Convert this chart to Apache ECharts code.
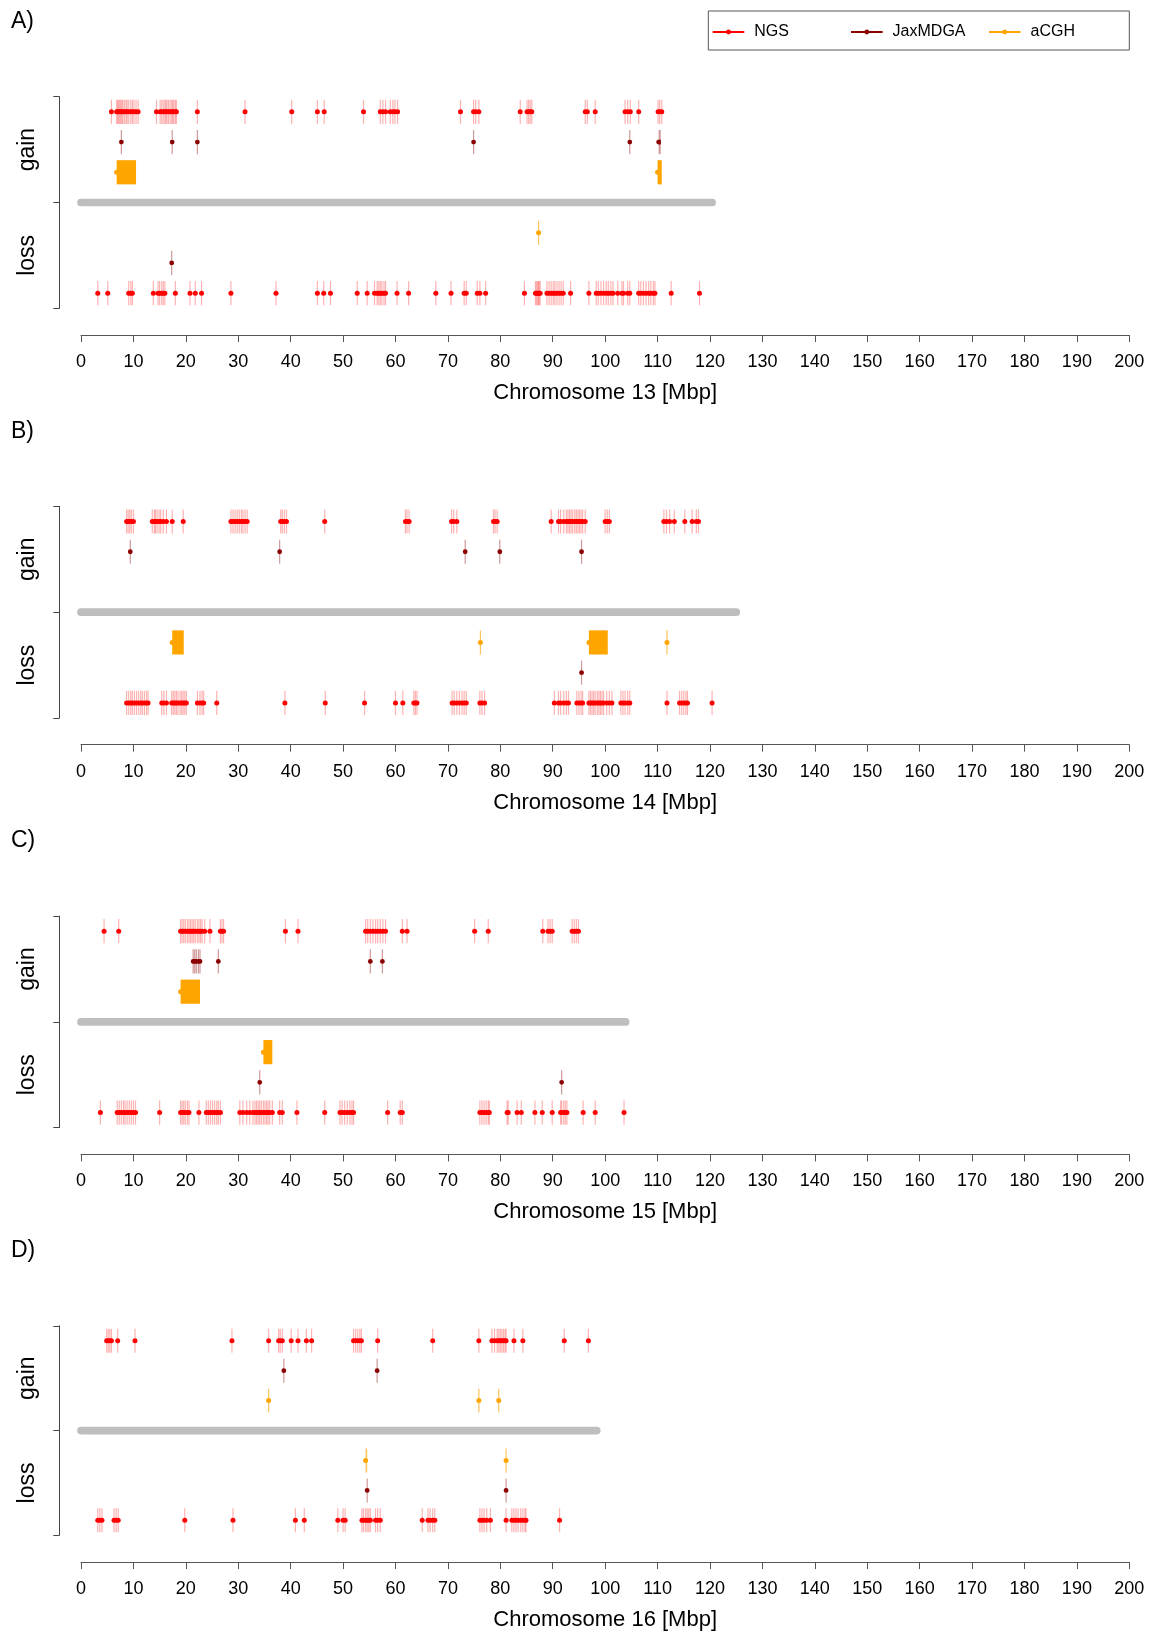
<!DOCTYPE html>
<html><head><meta charset="utf-8">
<script src="https://cdn.jsdelivr.net/npm/echarts@6/dist/echarts.min.js"></script>
<style>html,body{margin:0;padding:0;background:#fff}#c{width:1153px;height:1632px}</style>
</head><body><div id="c"></div><script>
// ---------------- data (Mbp) ----------------
const panelLabels = ['A)', 'B)', 'C)', 'D)'];
const chromosomes = ['13', '14', '15', '16'];
const chrLengths = [120.4, 125.0, 103.9, 98.4];
const seriesNames = ['NGS', 'JaxMDGA', 'aCGH'];

// chromosome 13
const gainNGS13 = [5.8, 6.8,7.0,7.2,7.4,7.6,7.8,8.0,8.3,8.6,8.8,9.1,9.5,9.8,10.1,10.5,10.9, 14.4, 15.1,15.4,15.7,16.0,16.2,16.4,16.7,17.0,17.3,17.5,17.7,18.0,18.2, 22.2, 31.3, 40.2, 45.1, 46.4, 53.9, 57.1,57.6,58.1, 59.0,59.5,59.9,60.4, 72.4, 74.9,75.3,75.9, 83.8, 85.1,85.4,85.7,86.0, 96.2,96.6, 98.1, 103.8,104.3,104.8, 106.4, 110.1,110.4,110.8];
const gainJax13 = [7.7, 17.4, 22.2, 74.9, 104.7, [110.2,110.6]];
const gainACGH13 = [[6.8,10.5], [110.0,110.8]];
const lossACGH13 = [87.3];
const lossJax13 = [17.3];
const lossNGS13 = [3.2, 5.1, 9.1,9.5,9.8, 13.8, 14.7,15.0,15.4,15.7,16.0, 18.0, 20.8, 21.8, 23.0, 28.6, 37.2, 45.1, 46.3, 47.6, 52.7, 54.6, 56.0,56.5,56.8,57.1,57.4,57.8,58.1, 60.3, 62.5, 67.7, 70.6, 73.1,73.5, 75.6,76.1, 77.2, 84.6, 86.7,86.9,87.1,87.3,87.4,87.6, 88.9,89.3,89.7,90.1,90.4,90.8,91.2,91.6,92.0, 93.4, 96.9, 98.3,98.7,99.2,99.7,100.2,100.6,101.1,101.5, 102.4, 103.2,103.5, 104.3,104.7, 106.4,106.8,107.3,107.8,108.3,108.7,109.2,109.5, 112.6, 118.0];

// chromosome 14
const gainNGS14 = [8.7,9.0,9.3,9.6,10.0, 13.6,14.0,14.2,14.5,14.9,15.2, 15.7, 16.3, 17.4, 19.5, 28.6,29.0,29.4,29.8,30.2,30.6,30.9,31.3,31.7, 38.1,38.4,38.8,39.2, 46.5, 61.9,62.2,62.6, 70.7,71.1,71.7, 78.7,79.0,79.4, 89.7, 91.1,91.5,92.1, 92.6,92.9,93.2,93.5,93.8,94.2,94.5,94.8,95.1,95.4,95.7,96.2, 100.0,100.4,100.8, 111.2,111.7,112.3, 113.2, 115.2, 116.6, 117.4,117.8];
const gainJax14 = [9.4, 37.9, 73.3, 79.9, 95.5];
const gainACGH14 = [];
const lossACGH14 = [[17.4,19.6], 76.2, [96.9,100.5], 111.8];
const lossJax14 = [95.5];
const lossNGS14 = [8.7,9.1,9.5,9.8,10.2,10.6,11.0,11.4,11.7,12.1,12.5,12.8, 15.4,15.8,16.3, 17.3,17.6,17.9,18.2,18.5,18.9,19.2,19.5,19.8,20.1, 22.2,22.7,23.1,23.4, 25.9, 38.9, 46.6, 54.1, 60.0, 61.4, 63.5,63.8,64.1, 70.8,71.2,71.7,72.2,72.7,73.1,73.5, 76.1,76.5,77.0, 90.3, 91.1,91.5,92.1,92.6,93.0, 94.6,95.0,95.4,95.7, 96.9,97.2,97.5,97.8,98.1,98.5,98.8,99.1,99.4,99.7,100.3,100.8,101.3, 103.0,103.4,103.8,104.3,104.7, 111.8, 114.2,114.6,115.0,115.4,115.7, 120.4];

// chromosome 15
const gainNGS15 = [4.4, 7.2, 19.0,19.3,19.6,19.9,20.3,20.6,20.9,21.2,21.5,21.8,22.2,22.5,22.8,23.1,23.6, 24.6, 26.6,26.9,27.2, 39.0, 41.4, 54.3,54.7,55.2,55.7,56.2,56.6,57.1,57.6,58.1, 61.3,62.2, 75.1, 77.7, 88.1, 89.1,89.5,89.9, 93.7,94.1,94.5,94.9];
const gainJax15 = [21.4,21.7,22.0,22.4,22.7, 26.2, 55.2, 57.5];
const gainACGH15 = [[19.0,22.7]];
const lossACGH15 = [[34.8,36.5]];
const lossJax15 = [34.1, 91.7];
const lossNGS15 = [3.7, 6.9,7.3,7.7,8.1,8.4,8.8,9.2,9.6,10.0,10.4, 15.0, 19.0,19.3,19.6,19.9,20.3,20.6, 22.5, 23.9,24.3,24.7,25.1,25.5,25.9,26.2,26.6, 30.3,30.9,31.6,32.2, 32.8,33.2,33.5,33.8,34.1,34.4,34.8,35.1,35.4,35.7,36.0,36.5, 37.9,38.4, 41.2, 46.5, 49.4,49.8,50.3,50.8,51.3,51.7,52.0, 58.5, 60.9,61.3, 76.1,76.5,76.9,77.3,77.7,77.9, 81.3,81.5, 83.2,84.0, 86.6, 88.0, 89.9, 91.5,91.7,92.1,92.4,92.7, 95.8, 98.1, 103.6];

// chromosome 16
const gainNGS16 = [4.9,5.2,5.5,5.8, 7.0, 10.3, 28.8, 35.8, 37.7,38.0,38.4, 40.1, 41.4, 43.0, 44.0, 52.0,52.4,52.8,53.2,53.5, 56.6, 67.1, 75.9, 78.4,78.9,79.4,79.7,80.0,80.3,80.6,80.9,81.1, 82.6, 84.3, 92.2, 96.8];
const gainJax16 = [38.7, 56.5];
const gainACGH16 = [35.8, 75.9, 79.7];
const lossACGH16 = [[54.3,54.6], 81.1];
const lossJax16 = [54.6, 81.1];
const lossNGS16 = [3.2,3.6,4.0, 6.3,6.7,7.1, 19.8, 29.0, 40.9, 42.6, 49.0, 50.0,50.4, 53.6,53.9,54.3,54.6,54.9,55.2, 56.2,56.6,57.1, 65.1, 66.2,66.6,67.1,67.5, 76.1,76.5,76.9,77.4,78.1, 81.1, 82.2,82.6,83.0,83.4,83.9,84.3,84.7,84.9, 91.3];

// row levels: gain NGS 3, gain JaxMDGA 2, gain aCGH 1, chromosome 0, loss aCGH -1, loss JaxMDGA -2, loss NGS -3
const panelRows = [
  [[gainNGS13,'NGS',3],[gainJax13,'JaxMDGA',2],[gainACGH13,'aCGH',1],[lossACGH13,'aCGH',-1],[lossJax13,'JaxMDGA',-2],[lossNGS13,'NGS',-3]],
  [[gainNGS14,'NGS',3],[gainJax14,'JaxMDGA',2],[gainACGH14,'aCGH',1],[lossACGH14,'aCGH',-1],[lossJax14,'JaxMDGA',-2],[lossNGS14,'NGS',-3]],
  [[gainNGS15,'NGS',3],[gainJax15,'JaxMDGA',2],[gainACGH15,'aCGH',1],[lossACGH15,'aCGH',-1],[lossJax15,'JaxMDGA',-2],[lossNGS15,'NGS',-3]],
  [[gainNGS16,'NGS',3],[gainJax16,'JaxMDGA',2],[gainACGH16,'aCGH',1],[lossACGH16,'aCGH',-1],[lossJax16,'JaxMDGA',-2],[lossNGS16,'NGS',-3]]
];

// ---------------- styling ----------------
const FONT = '"Liberation Sans", Arial, Helvetica, sans-serif';
const STY = {
  'NGS':     {color:'#FF0000', band:'rgba(255,0,0,0.3)', solid:'rgba(255,0,0,0.3)', r:2.5, line:true},
  'JaxMDGA': {color:'#8B0000', band:'rgba(139,0,0,0.4)', solid:'rgba(139,0,0,0.4)', r:2.4, line:true},
  'aCGH':    {color:'#FFA500', band:'rgba(255,165,0,0.65)', solid:'#FFA500', r:2.5, line:false}
};
const PANEL_STEP = 409.7, GRID_TOP = 96.7, GRID_H = 211.6, GRID_LEFT = 81, GRID_RIGHT = 23.7;

function makeRender(st) {
  return function (params, api) {
    const s = api.value(0), e = api.value(1), lv = api.value(2);
    const p1 = api.coord([s, lv]), p2 = api.coord([e, lv]);
    const hh = api.size([0, 0.4])[1];
    const span = p2[0] - p1[0];
    const w = Math.max(span, 1.2);
    const x0 = span < 1.2 ? p1[0] - 0.6 : p1[0];
    const children = [
      {type:'rect', shape:{x:x0, y:p1[1]-hh, width:w, height:2*hh}, style:{fill: span > 2 ? st.solid : st.band}}
    ];
    if (st.line && span > 0.5) children.push({type:'line', shape:{x1:p1[0], y1:p1[1], x2:p2[0], y2:p2[1]}, style:{stroke:st.color, lineWidth:st.r*2}});
    children.push({type:'circle', shape:{cx:p1[0], cy:p1[1], r:st.r}, style:{fill:st.color}});
    return {type:'group', children};
  };
}

const grids = [], xAxes = [], yAxes = [], series = [], titles = [];
// dummy series for legend icons
seriesNames.forEach(n => {
  series.push({type:'line', name:n, xAxisIndex:0, yAxisIndex:0, data:[], symbol:'circle', symbolSize:5,
    itemStyle:{color:STY[n].color}, lineStyle:{color:STY[n].color, width:2}});
});

for (let i = 0; i < 4; i++) {
  grids.push({left:GRID_LEFT, right:GRID_RIGHT, top:GRID_TOP + i*PANEL_STEP, height:GRID_H, containLabel:false});
  titles.push({text:panelLabels[i], left:11, top:10 + i*PANEL_STEP, padding:0,
    textStyle:{fontSize:23, fontWeight:'normal', color:'#000', fontFamily:FONT}});
  xAxes.push({gridIndex:i, type:'value', min:0, max:200, interval:10, position:'bottom', offset:26.7,
    axisLine:{show:true, onZero:false, lineStyle:{color:'#555', width:1}},
    axisTick:{show:true, length:7, lineStyle:{color:'#555'}},
    axisLabel:{fontSize:18, color:'#000', margin:18, fontFamily:FONT, showMinLabel:true, showMaxLabel:true},
    splitLine:{show:false},
    name:'Chromosome ' + chromosomes[i] + ' [Mbp]', nameLocation:'middle', nameGap:47,
    nameTextStyle:{fontSize:22, color:'#000', fontFamily:FONT}});
  yAxes.push({gridIndex:i, type:'value', min:-3.5, max:3.5, interval:3.5, position:'left', offset:21.7,
    axisLine:{show:true, onZero:false, lineStyle:{color:'#444'}},
    axisTick:{show:true, length:6, lineStyle:{color:'#444'}},
    axisLabel:{show:false}, splitLine:{show:false}});
  yAxes.push({gridIndex:i, type:'value', min:-3.5, max:3.5, interval:1.75, position:'left', offset:21.7,
    axisLine:{show:false}, axisTick:{show:false}, splitLine:{show:false},
    axisLabel:{show:true, rotate:90, fontSize:23, color:'#000', margin:20, fontFamily:FONT,
      formatter: v => (v === 1.75 ? 'gain' : (v === -1.75 ? 'loss' : ''))}});
  // chromosome bar
  series.push({type:'line', name:'chr' + chromosomes[i], xAxisIndex:i, yAxisIndex:2*i, data:[[0,0],[chrLengths[i],0]],
    symbol:'none', silent:true, lineStyle:{color:'#BEBEBE', width:7.7, cap:'round'}, z:1});
  panelRows[i].forEach(([arr, kind, level]) => {
    series.push({type:'custom', name:kind, xAxisIndex:i, yAxisIndex:2*i, z:2, silent:true,
      renderItem: makeRender(STY[kind]),
      encode:{x:[0,1], y:2},
      data: arr.map(ev => Array.isArray(ev) ? [ev[0], ev[1], level] : [ev, ev, level])});
  });
}

const legendX = [711.7, 850, 988];
const legends = seriesNames.map((n, k) => ({
  data:[n], left:legendX[k], top:24, padding:0, itemGap:0, itemWidth:31.6, itemHeight:6,
  textStyle:{fontSize:16, color:'#000', fontFamily:FONT, padding:[0,0,0,5]}, selectedMode:false
}));

const chart = echarts.init(document.getElementById('c'), null, {renderer:'canvas'});
chart.setOption({
  animation:false,
  backgroundColor:'#fff',
  title: titles,
  legend: legends,
  grid: grids, xAxis: xAxes, yAxis: yAxes, series,
  graphic: [{type:'rect', shape:{x:708.3, y:11, width:421, height:39}, style:{fill:'none', stroke:'#555', lineWidth:1}, z:100}]
});
</script></body></html>
